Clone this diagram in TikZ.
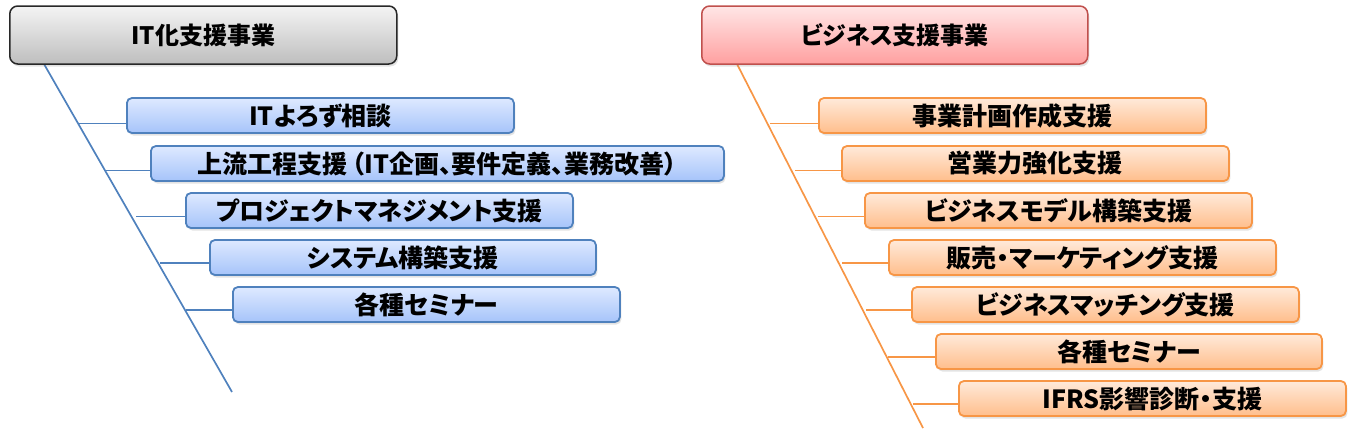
\documentclass[tikz,border=0pt]{standalone}
\usepackage{fontspec}
\setmainfont{Noto Sans CJK JP}[BoldFont={* Black},RawFeature=+palt]
\usetikzlibrary{shadows,calc}
\definecolor{itblue}{RGB}{79,129,189}
\definecolor{bluetop}{RGB}{222,233,255}
\definecolor{bluebot}{RGB}{166,196,250}
\definecolor{biz}{RGB}{247,150,70}
\definecolor{orgtop}{RGB}{255,234,218}
\definecolor{orgbot}{RGB}{255,190,140}
\definecolor{hdgray}{RGB}{40,40,40}
\definecolor{graytop}{RGB}{244,244,244}
\definecolor{graybot}{RGB}{190,190,190}
\definecolor{pinkline}{RGB}{192,80,77}
\definecolor{pinktop}{RGB}{255,230,230}
\definecolor{pinkbot}{RGB}{255,160,160}
\begin{document}
\begin{tikzpicture}[x=1pt,y=-1pt,
  shade/.style={drop shadow={opacity=0.22, shadow xshift=1.5pt, shadow yshift=-2.5pt}},
  base/.style={shade, rounded corners=5pt, line width=1.8pt, inner sep=0pt,
    minimum height=35pt, anchor=west, text=black,
    font=\fontsize{25}{25}\selectfont\bfseries},
  bluebox/.style={base, draw=itblue, top color=bluetop, bottom color=bluebot},
  orgbox/.style={base, draw=biz, top color=orgtop, bottom color=orgbot},
  hdbox/.style={shade, rounded corners=8pt, line width=1.5pt, inner sep=0pt,
    minimum height=58pt, minimum width=387pt, anchor=west, text=black,
    font=\fontsize{24}{24}\selectfont\bfseries},
  bline/.style={draw=itblue, line width=1.7pt},
  oline/.style={draw=biz, line width=1.7pt}
]
\useasboundingbox (0,0) rectangle (1354,439);

% trunks
\coordinate (lt) at (44,64);
\coordinate (lb) at (232,392);
\coordinate (rt) at (737,64);
\coordinate (rb) at (923,428);
\draw[bline] (lt) -- (lb);
\draw[oline] (rt) -- (rb);

% headers
\node[hdbox, draw=hdgray, top color=graytop, bottom color=graybot] (hl) at (9,35) {IT化支援事業};
\node[hdbox, draw=pinkline, top color=pinktop, bottom color=pinkbot, minimum width=386pt] (hr) at (701,35) {ビジネス支援事業};

% left boxes
\node[bluebox, minimum width=387pt] (l1) at (126,115.5) {ITよろず相談};
\node[bluebox, minimum width=573pt] (l2) at (150,163.5) {上流工程支援\,（IT企画、要件定義、業務改善）};
\node[bluebox, minimum width=387pt] (l3) at (185,210.5) {プロジェクトマネジメント支援};
\node[bluebox, minimum width=386pt] (l4) at (209,257.5) {システム構築支援};
\node[bluebox, minimum width=387pt] (l5) at (232,304.5) {各種セミナー};

% right boxes
\node[orgbox, minimum width=387pt] (r1) at (818,115.5) {事業計画作成支援};
\node[orgbox, minimum width=387pt] (r2) at (841,163.5) {営業力強化支援};
\node[orgbox, minimum width=387pt] (r3) at (864,210.5) {ビジネスモデル構築支援};
\node[orgbox, minimum width=387pt] (r4) at (888,257.5) {販売・マーケティング支援};
\node[orgbox, minimum width=387pt] (r5) at (911,304.5) {ビジネスマッチング支援};
\node[orgbox, minimum width=386pt] (r6) at (935,351.5) {各種セミナー};
\node[orgbox, minimum width=387pt] (r7) at (958,398.5) {IFRS影響診断・支援};

% left stubs
\coordinate (ls1) at (79,123.5);
\coordinate (ls2) at (105,170.5);
\coordinate (ls3) at (136,216.5);
\coordinate (ls4) at (160,263);
\coordinate (ls5) at (186,310);
\foreach \i in {1,...,5} \draw[bline, shade] (ls\i) -- (ls\i -| l\i.west);

% right stubs
\coordinate (rs1) at (770,123.5);
\coordinate (rs2) at (795,170.5);
\coordinate (rs3) at (818,216.5);
\coordinate (rs4) at (842,263);
\coordinate (rs5) at (866,310);
\coordinate (rs6) at (888,357);
\coordinate (rs7) at (913,404);
\foreach \i in {1,...,7} \draw[oline, shade] (rs\i) -- (rs\i -| r\i.west);
\end{tikzpicture}
\end{document}
